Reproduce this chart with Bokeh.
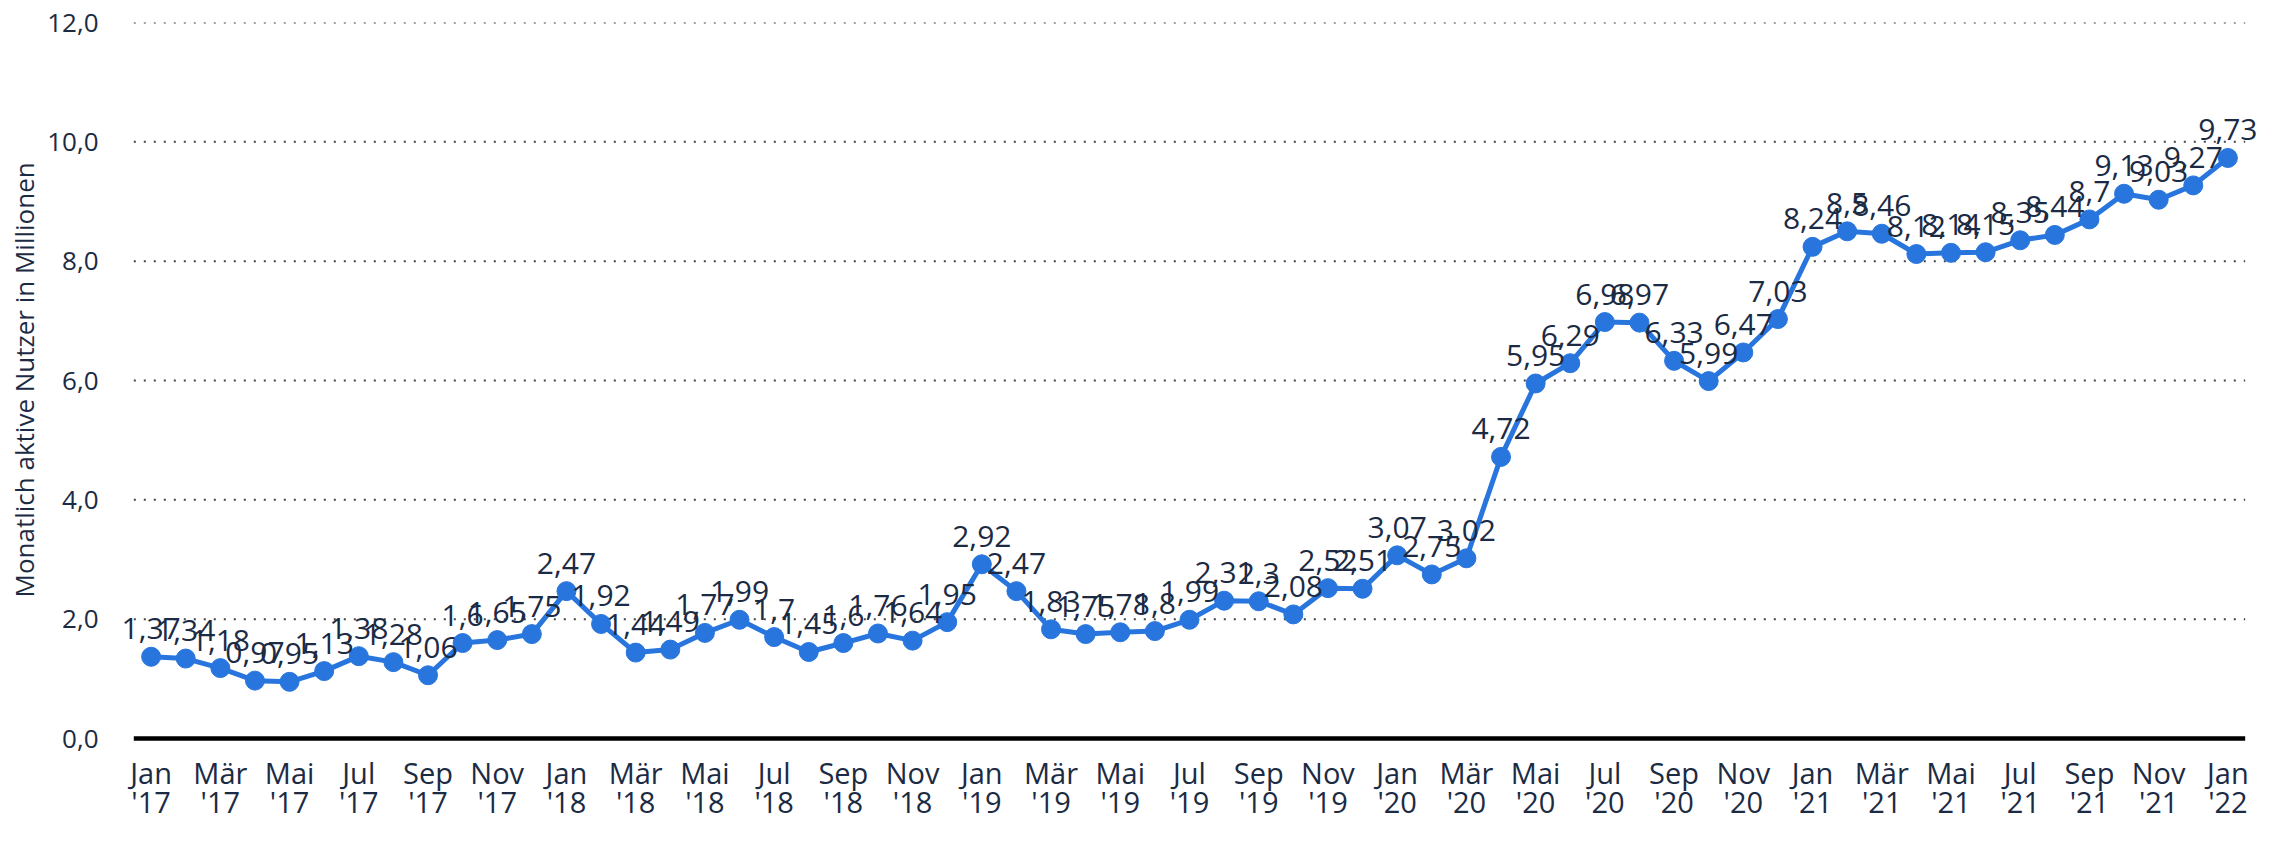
from bokeh.plotting import figure
from bokeh.models import Range1d, FixedTicker, ColumnDataSource, LinearAxis, Title
from bokeh.core.properties import value
from bokeh.embed import file_html
from bokeh.resources import INLINE

months = ["Jan", "Feb", "Mär", "Apr", "Mai", "Jun", "Jul", "Aug", "Sep", "Okt", "Nov", "Dez"]
years = ["'17", "'18", "'19", "'20", "'21", "'22"]

users = [
    1.37, 1.34, 1.18, 0.97, 0.95, 1.13, 1.38, 1.28, 1.06, 1.6, 1.65, 1.75,
    2.47, 1.92, 1.44, 1.49, 1.77, 1.99, 1.7, 1.45, 1.6, 1.76, 1.64, 1.95,
    2.92, 2.47, 1.83, 1.75, 1.78, 1.8, 1.99, 2.31, 2.3, 2.08, 2.52, 2.51,
    3.07, 2.75, 3.02, 4.72, 5.95, 6.29, 6.98, 6.97, 6.33, 5.99, 6.47, 7.03,
    8.24, 8.5, 8.46, 8.12, 8.14, 8.15, 8.35, 8.44, 8.7, 9.13, 9.03, 9.27,
    9.73,
]

y_ticks = [0, 2, 4, 6, 8, 10, 12]
y_title = "Monatlich aktive Nutzer in Millionen"

def fmt(v):
    s = ("%.2f" % v).rstrip("0").rstrip(".")
    return s.replace(".", ",")

n = len(users)
xs = list(range(n))
src = ColumnDataSource(dict(x=xs, y=users, lab=[fmt(v) for v in users]))

BLUE = "#2876dd"
TXT = "#1b2b44"
FONT = "Open Sans"

# extra room left/right of the category band so point labels are not clipped,
# extra room below zero so the two rows of tick labels sit inside the frame
p = figure(width=2278, height=825, output_backend="svg", toolbar_location=None,
           x_range=Range1d(-1.0, n), y_range=Range1d(-1.458, 12),
           min_border_left=111, min_border_right=16, min_border_top=22, min_border_bottom=0)
p.outline_line_color = None
p.background_fill_color = "white"
p.border_fill_color = "white"

# horizontal dotted grid and the solid zero line, limited to the category band
grid_y = y_ticks[1:]
p.segment(x0=[-0.5] * len(grid_y), x1=[n - 0.5] * len(grid_y),
          y0=grid_y, y1=grid_y, line_color="#444444", line_dash="2 8", line_width=2)
p.segment(x0=[-0.5], x1=[n - 0.5], y0=[y_ticks[0]], y1=[y_ticks[0]],
          line_color="black", line_width=4.5)

p.line("x", "y", source=src, line_color=BLUE, line_width=5)
p.scatter("x", "y", source=src, size=19, fill_color=BLUE, line_color=BLUE)
p.text("x", "y", text="lab", source=src, text_align="center", text_baseline="alphabetic",
       y_offset=-28, text_font=value(FONT), text_font_size="30px", text_color=TXT)

tick_x = xs[::2]

# x axis at zero: month names
xa = p.xaxis[0]
xa.fixed_location = 0
xa.ticker = FixedTicker(ticks=tick_x)
xa.major_label_overrides = {i: months[i % 12] for i in tick_x}
xa.major_tick_line_color = None
xa.minor_tick_line_color = None
xa.axis_line_color = None
xa.major_label_text_font = FONT
xa.major_label_text_font_size = "29px"
xa.major_label_text_color = TXT
xa.major_label_standoff = 8
p.xgrid.grid_line_color = None
p.ygrid.grid_line_color = None

# second row: years
year_axis = LinearAxis(ticker=FixedTicker(ticks=tick_x), fixed_location=0,
                       major_label_overrides={i: years[i // 12] for i in tick_x})
year_axis.axis_line_color = None
year_axis.major_tick_line_color = None
year_axis.minor_tick_line_color = None
year_axis.major_label_text_font = FONT
year_axis.major_label_text_font_size = "29px"
year_axis.major_label_text_color = TXT
year_axis.major_label_standoff = 37
p.add_layout(year_axis, "below")

# y axis
p.yaxis.ticker = FixedTicker(ticks=y_ticks)
p.yaxis.major_label_overrides = {t: ("%.1f" % t).replace(".", ",") for t in y_ticks}
p.yaxis.axis_line_color = None
p.yaxis.major_tick_line_color = None
p.yaxis.minor_tick_line_color = None
p.yaxis.major_label_text_font = FONT
p.yaxis.major_label_text_font_size = "26px"
p.yaxis.major_label_text_color = TXT
p.yaxis.major_label_standoff = 12

# y title, placed along the value area rather than the whole frame
ytitle = Title(text=y_title, align="left", offset=228, text_font=FONT,
               text_font_size="26px", text_font_style="normal", text_color=TXT, standoff=6)
p.add_layout(ytitle, "left")

open("out.html", "w").write(file_html(p, INLINE))
